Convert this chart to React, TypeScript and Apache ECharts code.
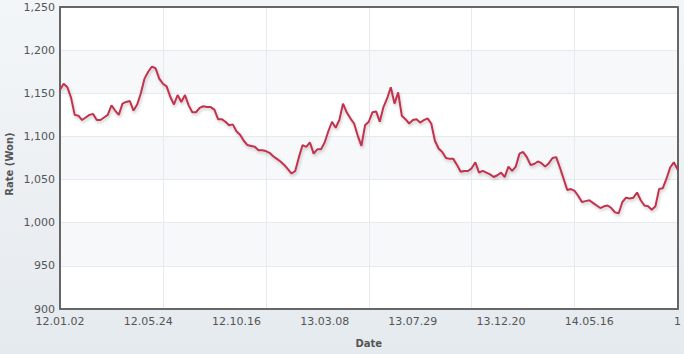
import React, { useEffect, useRef } from "react";
import * as echarts from "echarts";

const tickLabels = ["12.01.02", "12.05.24", "12.10.16", "13.03.08", "13.07.29", "13.12.20", "14.05.16", "1"];

const yMin = 900;
const yMax = 1250;
const yStep = 50;

const rates = [
  1154, 1161, 1157, 1145, 1125, 1124, 1119, 1122, 1125, 1126,
  1119, 1119, 1122, 1125, 1136, 1130, 1125, 1138, 1140, 1141,
  1130, 1137, 1150, 1167, 1175, 1181, 1179, 1167, 1161, 1158,
  1146, 1137, 1148, 1140,
  1148, 1136, 1128, 1128, 1133, 1135, 1134, 1134, 1131, 1120,
  1120, 1117, 1113, 1114, 1106, 1102, 1095, 1090, 1089, 1088,
  1084, 1084, 1083, 1081, 1077, 1074, 1071, 1067, 1062, 1057,
  1060, 1076, 1090, 1088,
  1093, 1080, 1085, 1085, 1093, 1106, 1117, 1110, 1119, 1138,
  1128, 1121, 1115, 1101, 1089, 1113, 1117, 1128, 1129, 1117,
  1134, 1144, 1157, 1138, 1151, 1124, 1120, 1115, 1119, 1120,
  1116, 1119, 1121, 1115,
  1095, 1086, 1082, 1075, 1074, 1074, 1067, 1059, 1060, 1060,
  1063, 1070, 1058, 1060, 1058, 1056, 1053, 1055, 1058, 1053,
  1065, 1060, 1065, 1080, 1082, 1076, 1067, 1068, 1071, 1069,
  1065, 1069, 1075,
  1076, 1064, 1051, 1038, 1039, 1037, 1031, 1024, 1025, 1026,
  1023, 1020, 1017, 1019, 1020, 1017, 1012, 1011, 1024, 1029,
  1028, 1029, 1035, 1026, 1020, 1019, 1015, 1019, 1039, 1040,
  1051, 1064, 1070, 1062,
];

const FONT = "DejaVu Sans";
const BORDER = { show: true, lineStyle: { color: "#666666", width: 2 } };
const GRIDLINE = { show: true, lineStyle: { color: "#e6e9ed", width: 1 } };

export default function App() {
  const ref = useRef<HTMLDivElement>(null);

  useEffect(() => {
    const chart = echarts.init(ref.current!, null, { renderer: "svg" });
    const n = rates.length - 1;
    const labelStep = n / (tickLabels.length - 1);
    const gridStep = n / 6;

    chart.setOption({
      animation: false,
      backgroundColor: {
        type: "linear",
        x: 0,
        y: 0,
        x2: 0,
        y2: 1,
        colorStops: [
          { offset: 0, color: "#f3f6f9" },
          { offset: 1, color: "#e5eaee" },
        ],
      },
      grid: {
        left: 60,
        top: 7,
        right: 6,
        bottom: 45,
        show: true,
        backgroundColor: "#ffffff",
        borderWidth: 0,
      },
      graphic: [
        {
          type: "text",
          x: 9,
          y: 164,
          rotation: Math.PI / 2,
          style: {
            text: "Rate (Won)",
            font: `bold 10px "${FONT}"`,
            fill: "#555",
            align: "center",
            verticalAlign: "middle",
          },
        },
      ],
      xAxis: [
        {
          type: "value",
          min: 0,
          max: n,
          interval: labelStep,
          position: "bottom",
          axisLine: { ...BORDER, onZero: false },
          axisTick: { show: false },
          splitLine: { show: false },
          axisLabel: {
            color: "#555",
            fontFamily: FONT,
            fontSize: 11,
            margin: 7,
            showMinLabel: true,
            showMaxLabel: true,
            formatter: (v: number) => tickLabels[Math.round(v / labelStep)] ?? "",
          },
          name: "Date",
          nameLocation: "middle",
          nameGap: 29,
          nameTextStyle: { color: "#555", fontFamily: FONT, fontSize: 10, fontWeight: "bold" },
        },
        {
          type: "value",
          min: 0,
          max: n,
          interval: gridStep,
          position: "top",
          axisLine: { ...BORDER, onZero: false },
          axisTick: { show: false },
          axisLabel: { show: false },
          splitLine: GRIDLINE,
        },
      ],
      yAxis: [
        {
          type: "value",
          min: yMin,
          max: yMax,
          interval: yStep,
          position: "left",
          axisLine: { ...BORDER, onZero: false },
          axisTick: { show: false },
          splitLine: GRIDLINE,
          splitArea: { show: true, areaStyle: { color: ["#ffffff", "#f6f8fa"] } },
          axisLabel: {
            color: "#555",
            fontFamily: FONT,
            fontSize: 11,
            margin: 5,
            formatter: (v: number) => v.toLocaleString("en-US"),
          },
        },
        {
          type: "value",
          min: yMin,
          max: yMax,
          interval: yStep,
          position: "right",
          axisLine: { ...BORDER, onZero: false },
          axisTick: { show: false },
          axisLabel: { show: false },
          splitLine: { show: false },
        },
      ],
      series: [
        {
          type: "line",
          xAxisIndex: 0,
          yAxisIndex: 0,
          data: rates.map((v, i) => [i, v]),
          showSymbol: false,
          symbol: "none",
          lineStyle: {
            color: "#c2334d",
            width: 2,
            shadowColor: "rgba(0,0,0,0.22)",
            shadowBlur: 3,
            shadowOffsetX: 1,
            shadowOffsetY: 2,
          },
        },
      ],
    });

    return () => chart.dispose();
  }, []);

  return <div ref={ref} style={{ position: "fixed", left: 0, top: 0, width: 684, height: 354 }} />;
}
